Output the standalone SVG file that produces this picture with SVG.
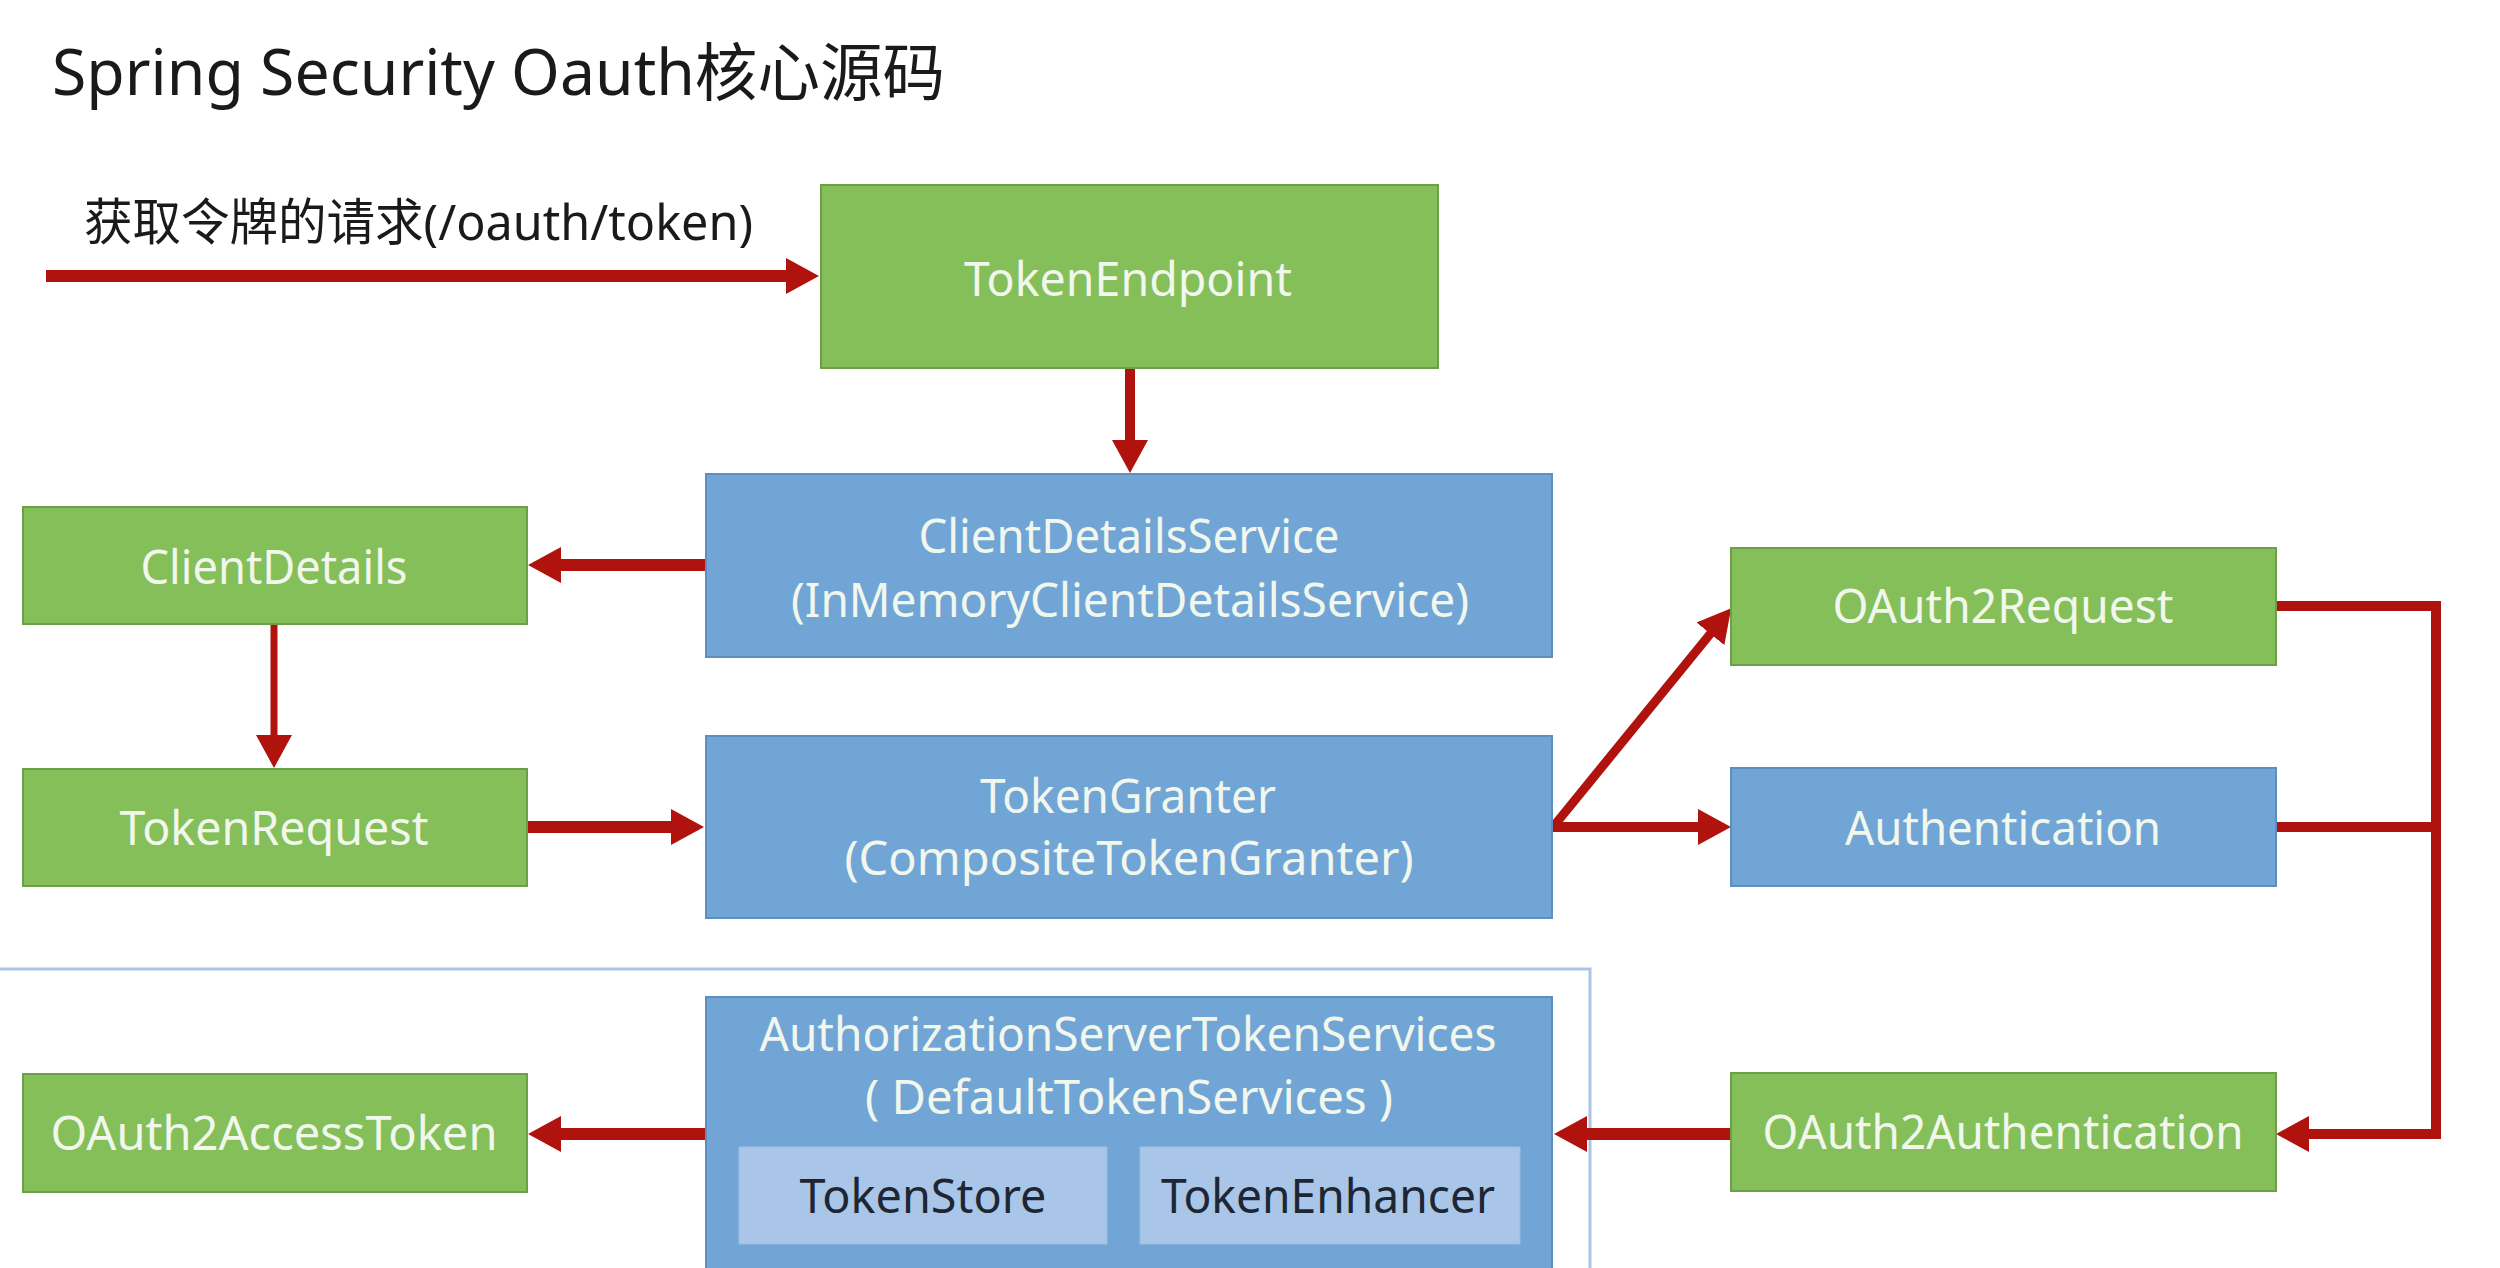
<svg xmlns="http://www.w3.org/2000/svg" width="2500" height="1268" viewBox="0 0 2500 1268">
<style>
.g{fill:#84BF5A;stroke:#6E9F48;stroke-width:2}
.b{fill:#71A5D6;stroke:#5E8EC0;stroke-width:2}
.s{fill:#A9C6E9;stroke:#9DBBE0;stroke-width:1}
.t{font-family:"Noto Sans","Noto Sans CJK SC",sans-serif;font-size:48px;text-anchor:middle;fill:#F1F7EC}
.d{font-family:"Noto Sans","Noto Sans CJK SC",sans-serif;font-size:48px;text-anchor:middle;fill:#1E2633}
.h{font-family:"Noto Sans","Noto Sans CJK SC",sans-serif;fill:#1A1A1A}
.c{fill:none;stroke:#B0120D;stroke-linejoin:miter}
</style>
<defs>
<marker id="ah" markerUnits="userSpaceOnUse" markerWidth="34" markerHeight="36" refX="1" refY="18" orient="auto" viewBox="0 0 34 36">
<path d="M0,0 L33,18 L0,36 Z" fill="#B0120D"/>
</marker>
</defs>
<rect width="2500" height="1268" fill="#FFFFFF"/>
<text class="h" x="52" y="95" font-size="63" textLength="893" lengthAdjust="spacingAndGlyphs">Spring Security Oauth核心源码</text>
<text class="h" x="84" y="240" font-size="50" fill="#333" textLength="669" lengthAdjust="spacingAndGlyphs">获取令牌的请求(/oauth/token)</text>
<path id="frame" d="M0,969 H1590 V1268" fill="none" stroke="#A9C5E3" stroke-width="3"/>
<g id="connectors">
<line class="c" x1="46" y1="276" x2="787" y2="276" stroke-width="12" marker-end="url(#ah)"/>
<line class="c" x1="1130" y1="369" x2="1130" y2="441" stroke-width="10" marker-end="url(#ah)"/>
<line class="c" x1="706" y1="565" x2="560" y2="565" stroke-width="12" marker-end="url(#ah)"/>
<line class="c" x1="274" y1="625" x2="274" y2="736" stroke-width="7" marker-end="url(#ah)"/>
<line class="c" x1="528" y1="827" x2="672" y2="827" stroke-width="12" marker-end="url(#ah)"/>
<line class="c" x1="1553" y1="827" x2="1711" y2="633" stroke-width="9" marker-end="url(#ah)"/>
<line class="c" x1="1553" y1="827" x2="1699" y2="827" stroke-width="10" marker-end="url(#ah)"/>
<polyline class="c" points="2276,606 2436,606 2436,1134 2308,1134" stroke-width="10" marker-end="url(#ah)"/>
<line class="c" x1="2276" y1="827" x2="2436" y2="827" stroke-width="10"/>
<line class="c" x1="1731" y1="1134" x2="1586" y2="1134" stroke-width="12" marker-end="url(#ah)"/>
<line class="c" x1="706" y1="1134" x2="560" y2="1134" stroke-width="12" marker-end="url(#ah)"/>
</g>
<g id="TokenEndpoint">
<rect class="g" x="821" y="185" width="617" height="183"/>
<text class="t" x="1128" y="296" textLength="328" lengthAdjust="spacingAndGlyphs">TokenEndpoint</text>
</g>
<g id="ClientDetailsService">
<rect class="b" x="706" y="474" width="846" height="183"/>
<text class="t" x="1129" y="553" textLength="421" lengthAdjust="spacingAndGlyphs">ClientDetailsService</text>
<text class="t" x="1130" y="617" textLength="678" lengthAdjust="spacingAndGlyphs">(InMemoryClientDetailsService)</text>
</g>
<g id="ClientDetails">
<rect class="g" x="23" y="507" width="504" height="117"/>
<text class="t" x="274" y="584" textLength="267" lengthAdjust="spacingAndGlyphs">ClientDetails</text>
</g>
<g id="TokenRequest">
<rect class="g" x="23" y="769" width="504" height="117"/>
<text class="t" x="274" y="845" textLength="309" lengthAdjust="spacingAndGlyphs">TokenRequest</text>
</g>
<g id="TokenGranter">
<rect class="b" x="706" y="736" width="846" height="182"/>
<text class="t" x="1128" y="813" textLength="296" lengthAdjust="spacingAndGlyphs">TokenGranter</text>
<text class="t" x="1129" y="875" textLength="569" lengthAdjust="spacingAndGlyphs">(CompositeTokenGranter)</text>
</g>
<g id="OAuth2Request">
<rect class="g" x="1731" y="548" width="545" height="117"/>
<text class="t" x="2003" y="623" textLength="341" lengthAdjust="spacingAndGlyphs">OAuth2Request</text>
</g>
<g id="Authentication">
<rect class="b" x="1731" y="768" width="545" height="118"/>
<text class="t" x="2003" y="845" textLength="316" lengthAdjust="spacingAndGlyphs">Authentication</text>
</g>
<g id="OAuth2Authentication">
<rect class="g" x="1731" y="1073" width="545" height="118"/>
<text class="t" x="2003" y="1149" textLength="481" lengthAdjust="spacingAndGlyphs">OAuth2Authentication</text>
</g>
<g id="OAuth2AccessToken">
<rect class="g" x="23" y="1074" width="504" height="118"/>
<text class="t" x="274" y="1150" textLength="447" lengthAdjust="spacingAndGlyphs">OAuth2AccessToken</text>
</g>
<g id="AuthorizationServerTokenServices">
<rect class="b" x="706" y="997" width="846" height="290"/>
<text class="t" x="1128" y="1051" font-size="46" textLength="737" lengthAdjust="spacingAndGlyphs">AuthorizationServerTokenServices</text>
<text class="t" x="1129" y="1114" font-size="46" textLength="528" lengthAdjust="spacingAndGlyphs">( DefaultTokenServices )</text>
<g id="TokenStore">
<rect class="s" x="739" y="1147" width="368" height="97"/>
<text class="d" x="923" y="1213" textLength="247" lengthAdjust="spacingAndGlyphs">TokenStore</text>
</g>
<g id="TokenEnhancer">
<rect class="s" x="1140" y="1147" width="380" height="97"/>
<text class="d" x="1328" y="1213" textLength="334" lengthAdjust="spacingAndGlyphs">TokenEnhancer</text>
</g>
</g>
</svg>
